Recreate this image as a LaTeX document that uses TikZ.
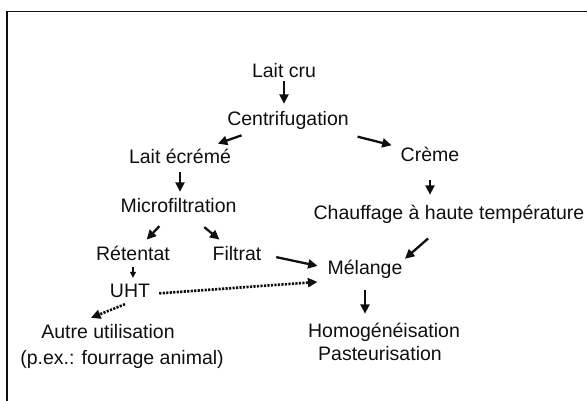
\documentclass[tikz,border=0pt]{standalone}
\usepackage{fontspec}
\setmainfont{Liberation Sans}
\usetikzlibrary{arrows.meta,calc}
\definecolor{ink}{RGB}{15,15,15}
\tikzset{
  >={Triangle[length=9.5pt,width=9pt]},
  lbl/.style={inner sep=0pt,text height=14pt,text depth=0pt,
    font=\fontsize{19.5}{23}\selectfont,text=ink},
  flow/.style={->,line width=2.3pt,draw=ink},
  thinflow/.style={-{Triangle[length=6pt,width=6pt]},line width=1.2pt,draw=ink},
  dotflow/.style={->,line width=2.6pt,draw=ink,dash pattern=on 2.2pt off 1.3pt},
  frame/.style={draw=ink,line width=1.6pt},
}

\begin{document}
\begin{tikzpicture}[x=1pt,y=-1pt]
  \useasboundingbox (0,0) rectangle (587,401);
  \draw[frame] (6.7,401) -- (6.7,11.7) -- (587,11.7);
  % skimmed milk branch
  \node[lbl] (laitcru) at (284,71) {Lait cru};
  \node[lbl] (centrif) at (288,119) {Centrifugation};
  \node[lbl] (ecreme) at (180,157) {Lait écrémé};
  \node[lbl] (microf) at (178.5,206) {Microfiltration};
  \node[lbl] (retentat) at (133,254) {Rétentat};
  \node[lbl] (filtrat) at (237,254) {Filtrat};
  \node[lbl] (uht) at (130,290) {UHT};
  \node[lbl] (autre) at (108,331) {Autre utilisation};
  \node[lbl] (pex) at (122,357) {(p.ex.: fourrage animal)};
  % cream branch
  \node[lbl] (creme) at (430,155) {Crème};
  \node[lbl] (chauff) at (449,213) {Chauffage à haute température};
  \node[lbl] (melange) at (365,268) {Mélange};
  \node[lbl] (homog) at (384,330) {Homogénéisation};
  \node[lbl] (pasteur) at (380,353) {Pasteurisation};
  % arrows
  \draw[flow,shorten <=3pt,shorten >=8pt] (laitcru.south) -- (laitcru.south |- centrif.north);
  \draw[flow] ($(centrif)!.43!(ecreme)$) -- ($(centrif)!.65!(ecreme)$);
  \draw[flow] ($(centrif)!.49!(creme)$) -- ($(centrif)!.73!(creme)$);
  \draw[flow,shorten <=8pt,shorten >=7pt] (ecreme.south) -- (ecreme.south |- microf.north);
  \draw[flow] ($(microf)!.42!(retentat)$) -- ($(microf)!.70!(retentat)$);
  \draw[flow] ($(microf)!.44!(filtrat)$) -- ($(microf)!.70!(filtrat)$);
  \draw[flow,shorten <=18pt,shorten >=11pt] (creme.south) -- (creme.south |- chauff.north);
  \draw[flow] ($(chauff.south)!.45!(melange.north east)$) -- ($(chauff.south)!.95!(melange.north east)$);
  \draw[flow,shorten <=15pt,shorten >=10pt] (filtrat.east) -- (melange.west);
  \draw[flow,shorten <=15pt,shorten >=9pt] (melange.south) -- (melange.south |- homog.north);
  \draw[thinflow,shorten <=6pt,shorten >=5pt] (retentat.south) -- (retentat.south |- uht.north);
  \draw[dotflow,shorten <=9pt,shorten >=10pt] ([shift={(0,4)}]uht.east) -- ([shift={(0,6)}]melange.south west);
  \draw[dotflow] ([shift={(-5,7)}]uht.south) -- ([shift={(-17,-6)}]autre.north);
\end{tikzpicture}
\end{document}
